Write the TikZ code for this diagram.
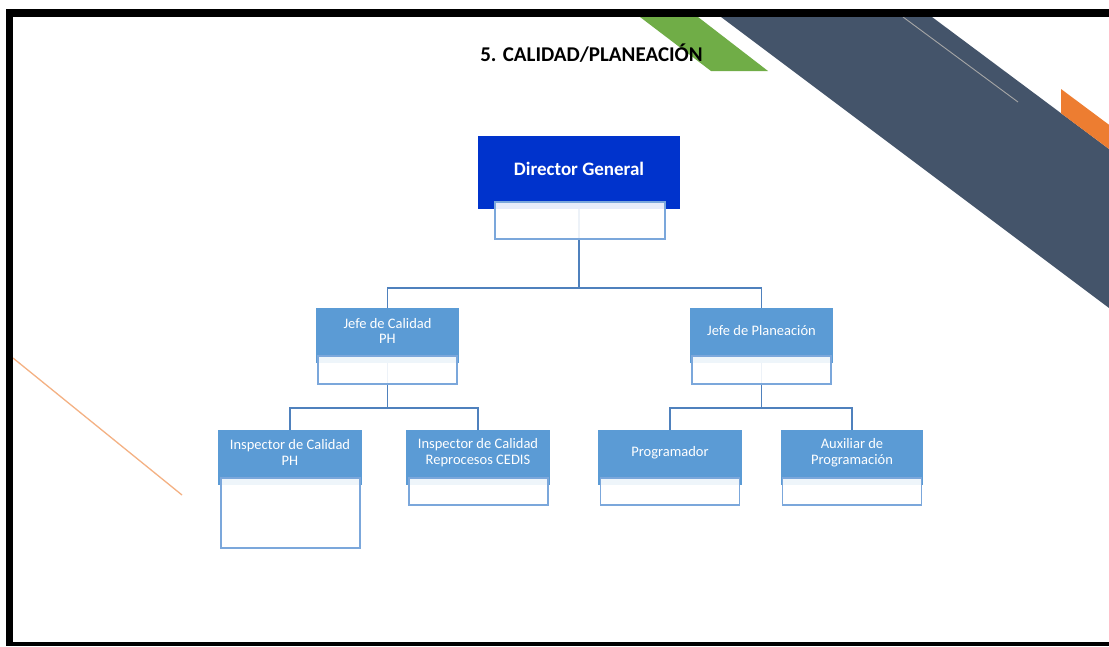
\documentclass[tikz,border=0pt]{standalone}
\usepackage{fontspec}
\setmainfont{Carlito}
\definecolor{dirblue}{HTML}{0033CC}
\definecolor{roleblue}{HTML}{5B9BD5}
\definecolor{connblue}{HTML}{4F81BD}
\definecolor{noteblue}{HTML}{7BA7DB}
\definecolor{slate}{HTML}{44546A}
\definecolor{leaf}{HTML}{70AD47}
\definecolor{tangerine}{HTML}{ED7D31}
\definecolor{peach}{HTML}{F4B183}
\begin{document}
\begin{tikzpicture}[x=1pt,y=-1pt,
  conn/.style={draw=connblue, line width=1.5pt},
  headbox/.style={fill=dirblue, inner sep=0pt, outer sep=0pt,
    minimum width=202pt, minimum height=73pt},
  rolebox/.style={fill=roleblue, inner sep=0pt, outer sep=0pt,
    minimum width=144pt, minimum height=55pt},
  notebox/.style={fill=white, fill opacity=0.9, draw=noteblue, line width=1.1pt,
    inner sep=0pt, outer sep=0pt, minimum width=139pt, minimum height=28pt},
  roletext/.style={text=white, align=center, inner sep=0pt,
    font=\fontsize{14.5}{15.8}\selectfont},
]
% page
\useasboundingbox (0,0) rectangle (1109,646);
\fill[white] (0,0) rectangle (1109,646);

% decorative bands
\fill[leaf] (640,17) -- (698,17) -- (768,71) -- (711,71) -- cycle;
\fill[slate] (721,17) -- (932,17) -- (1109,149) -- (1109,308) -- cycle;
\draw[gray!70, line width=0.9pt] (903,17) -- (1018,102);
\fill[tangerine] (1061,89) -- (1109,124.8) -- (1109,149) -- (1061,113.2) -- cycle;
\draw[peach, line width=1.3pt] (13,358) -- (182,495);

% frame
\fill[black] (6,9) rectangle (1109,17);
\fill[black] (6,9) rectangle (13,646);
\fill[black] (6,642) rectangle (1109,646);

% title
\node[anchor=base, inner sep=0pt, font=\fontsize{21}{23}\selectfont\bfseries] (title)
  at (591.5,61) {5. CALIDAD/PLANEACIÓN};

% boxes
\node[headbox] (dg) at (579,172.5) {};
\node[rolebox, minimum width=143pt] (jc) at (387.5,335.5) {};
\node[rolebox, minimum width=143pt] (jp) at (761.5,335.5) {};
\node[rolebox] (ip) at (290,457.5) {};
\node[rolebox] (ir) at (478,457.5) {};
\node[rolebox] (pr) at (670,457.5) {};
\node[rolebox, minimum width=142pt] (ax) at (852,457.5) {};

% connectors
\coordinate (bus1) at (579,288);
\coordinate (bus2) at (387.5,408);
\coordinate (bus3) at (761.5,408);
\draw[conn] (dg.south) -- (bus1);
\draw[conn] (jc.north) |- (bus1) -| (jp.north);
\draw[conn] (jc.south) -- (bus2);
\draw[conn] (ip.north) |- (bus2) -| (ir.north);
\draw[conn] (jp.south) -- (bus3);
\draw[conn] (pr.north) |- (bus3) -| (ax.north);

% note boxes under each position
\node[notebox, minimum width=170pt, minimum height=37pt] (dgn) at (580,220.5) {};
\node[notebox] (jcn) at (387.5,370) {};
\node[notebox] (jpn) at (761.5,370) {};
\node[notebox, minimum height=70pt] (ipn) at (290.5,513) {};
\node[notebox, minimum height=27pt] (irn) at (478.5,491.5) {};
\node[notebox, minimum height=27pt] (prn) at (670,491.5) {};
\node[notebox, minimum height=27pt] (axn) at (852,491.5) {};

% labels
\node[anchor=base, inner sep=0pt, text=white, font=\fontsize{19}{21}\selectfont\bfseries]
  (dgt) at (579,175.5) {Director General};
\node[roletext] (jct) at (387.5,331) {Jefe de Calidad\\PH};
\node[roletext] (jpt) at (761.5,331) {Jefe de Planeación};
\node[roletext] (ipt) at (290,452.5) {Inspector de Calidad\\PH};
\node[roletext] (irt) at (478,452.5) {Inspector de Calidad\\Reprocesos CEDIS};
\node[roletext] (prt) at (670,452.5) {Programador};
\node[roletext] (axt) at (852,452.5) {Auxiliar de\\Programación};
\end{tikzpicture}
\end{document}
